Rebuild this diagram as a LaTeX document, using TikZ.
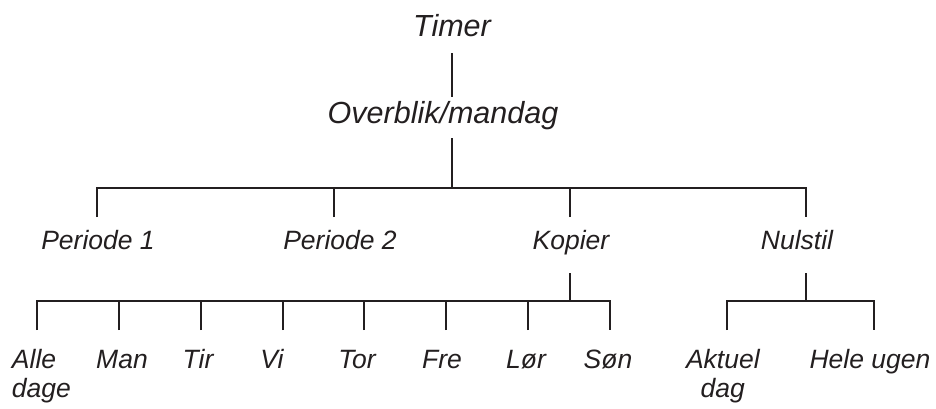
\documentclass[tikz,border=0pt]{standalone}
\usepackage{fontspec}
\setmainfont{Liberation Sans}
\definecolor{ink}{HTML}{231F20}
\tikzset{
  lbl/.style={inner sep=0pt, outer sep=0pt, text=ink, font=\itshape\fontsize{26.5}{29}\selectfont},
  toplbl/.style={lbl, font=\itshape\fontsize{30.5}{34}\selectfont},
  conn/.style={draw=ink, line width=2.9pt, line cap=butt}
}
\begin{document}
\begin{tikzpicture}[x=1pt,y=-1pt]
\useasboundingbox (0,0) rectangle (936,408);
% texts
\node[toplbl, anchor=base] (timer) at (452,36) {Timer};
\node[toplbl, anchor=base] (ov) at (443,123) {Overblik/mandag};
\node[lbl, anchor=base] (p1) at (98,249) {Periode 1};
\node[lbl, anchor=base] (p2) at (340,249) {Periode 2};
\node[lbl, anchor=base] (kop) at (571,249) {Kopier};
\node[lbl, anchor=base] (nul) at (797,249) {Nulstil};
\node[lbl, anchor=base west, align=left] (alle) at (12,397) {Alle\\dage};
\node[lbl, anchor=base] (man) at (122,368) {Man};
\node[lbl, anchor=base] (tir) at (198,368) {Tir};
\node[lbl, anchor=base] (vi) at (272,368) {Vi};
\node[lbl, anchor=base] (tor) at (357,368) {Tor};
\node[lbl, anchor=base] (fre) at (442,368) {Fre};
\node[lbl, anchor=base] (lor) at (526,368) {Lør};
\node[lbl, anchor=base] (son) at (608,368) {Søn};
\node[lbl, anchor=base west, align=center] (akt) at (686,397) {Aktuel\\dag};
\node[lbl, anchor=base] (hele) at (870,368) {Hele ugen};
% connector ends
\coordinate (timerB) at (452,53);
\coordinate (ovT) at (452,97);
\coordinate (ovB) at (452,138);
\coordinate (hubA) at (452,188);
\coordinate (p1T) at (97,217);
\coordinate (p2T) at (334,217);
\coordinate (kopT) at (570,217);
\coordinate (nulT) at (806,217);
\coordinate (kopB) at (570,273);
\coordinate (nulB) at (806,273);
\coordinate (hubK) at (570,301);
\coordinate (hubN) at (806,301);
\coordinate (alleT) at (37,330);
\coordinate (manT) at (119,330);
\coordinate (tirT) at (201,330);
\coordinate (viT) at (283,330);
\coordinate (torT) at (364,330);
\coordinate (freT) at (446,330);
\coordinate (lorT) at (528,330);
\coordinate (sonT) at (610,330);
\coordinate (aktT) at (727,330);
\coordinate (heleT) at (874,330);
% connectors
\draw[conn] (timerB) -- (ovT);
\draw[conn] (ovB) -- (hubA);
\draw[conn] (p1T) |- (hubA) -| (nulT);
\draw[conn] (p2T) -- (p2T |- hubA);
\draw[conn] (kopT) -- (kopT |- hubA);
\draw[conn] (kopB) -- (hubK);
\draw[conn] (alleT) |- (hubK) -| (sonT);
\foreach \c in {manT,tirT,viT,torT,freT,lorT}
  \draw[conn] (\c) -- (\c |- hubK);
\draw[conn] (nulB) -- (hubN);
\draw[conn] (aktT) |- (hubN) -| (heleT);
\end{tikzpicture}
\end{document}
